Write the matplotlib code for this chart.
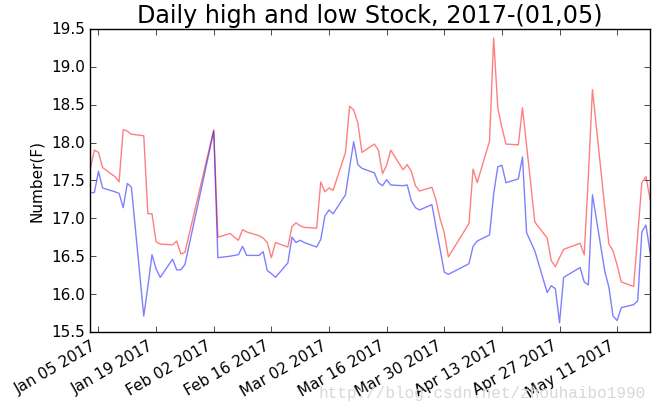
import pandas as pd
import matplotlib
matplotlib.use('Agg')
import matplotlib.pyplot as plt
import matplotlib.dates as mdates

# daily data (trading days only)
dates = ['2017-01-03', '2017-01-04', '2017-01-05', '2017-01-06', '2017-01-09', '2017-01-10',
         '2017-01-11', '2017-01-12', '2017-01-13', '2017-01-16', '2017-01-17', '2017-01-18',
         '2017-01-19', '2017-01-20', '2017-01-23', '2017-01-24', '2017-01-25', '2017-01-26',
         '2017-02-02', '2017-02-03', '2017-02-06', '2017-02-07', '2017-02-08', '2017-02-09',
         '2017-02-10', '2017-02-13', '2017-02-14', '2017-02-15', '2017-02-16', '2017-02-17',
         '2017-02-20', '2017-02-21', '2017-02-22', '2017-02-23', '2017-02-24', '2017-02-27',
         '2017-02-28', '2017-03-01', '2017-03-02', '2017-03-03', '2017-03-06', '2017-03-07',
         '2017-03-08', '2017-03-09', '2017-03-10', '2017-03-13', '2017-03-14', '2017-03-15',
         '2017-03-16', '2017-03-17', '2017-03-20', '2017-03-21', '2017-03-22', '2017-03-23',
         '2017-03-24', '2017-03-27', '2017-03-28', '2017-03-29', '2017-03-30', '2017-03-31',
         '2017-04-05', '2017-04-06', '2017-04-07', '2017-04-10', '2017-04-11', '2017-04-12',
         '2017-04-13', '2017-04-14', '2017-04-17', '2017-04-18', '2017-04-19', '2017-04-20',
         '2017-04-21', '2017-04-24', '2017-04-25', '2017-04-26', '2017-04-27', '2017-04-28',
         '2017-05-02', '2017-05-03', '2017-05-04', '2017-05-05', '2017-05-08', '2017-05-09',
         '2017-05-10', '2017-05-11', '2017-05-12', '2017-05-15', '2017-05-16', '2017-05-17',
         '2017-05-18', '2017-05-19']

highs = [17.65, 17.90, 17.87, 17.67, 17.55, 17.48, 18.17, 18.15, 18.11, 18.09, 17.06, 17.06,
         16.69, 16.66, 16.65, 16.70, 16.53, 16.55,
         18.17, 16.75, 16.80, 16.75, 16.71, 16.85, 16.82, 16.77, 16.74, 16.68, 16.48, 16.68,
         16.62, 16.89, 16.94, 16.90, 16.88, 16.87, 17.48,
         17.35, 17.40, 17.37, 17.87, 18.48, 18.43, 18.26, 17.87, 17.98, 17.90, 17.59,
         17.70, 17.90, 17.64, 17.71, 17.62, 17.43, 17.36, 17.41, 17.24, 16.99, 16.81, 16.49,
         16.93, 17.65, 17.47, 18.02, 19.38, 18.46, 18.20, 17.98, 17.97, 18.46, 17.96, 17.46,
         16.95, 16.74, 16.44, 16.36, 16.48, 16.59,
         16.67, 16.52, 17.55, 18.70, 17.14, 16.66, 16.57, 16.38, 16.16, 16.10, 16.78, 17.47,
         17.55, 17.25]

lows = [17.34, 17.34, 17.62, 17.40, 17.35, 17.33, 17.14, 17.46, 17.41, 15.71, 16.10, 16.52,
        16.33, 16.22, 16.46, 16.32, 16.32, 16.39,
        18.15, 16.48, 16.50, 16.51, 16.52, 16.63, 16.51, 16.51, 16.56, 16.31, 16.27, 16.22,
        16.41, 16.75, 16.68, 16.71, 16.68, 16.62, 16.72,
        17.03, 17.11, 17.06, 17.31, 17.67, 18.01, 17.71, 17.66, 17.60, 17.47, 17.43,
        17.51, 17.44, 17.43, 17.44, 17.23, 17.14, 17.11, 17.18, 16.88, 16.59, 16.29, 16.26,
        16.40, 16.63, 16.70, 16.78, 17.32, 17.68, 17.70, 17.47, 17.52, 17.81, 16.81, 16.69,
        16.57, 16.02, 16.11, 16.07, 15.62, 16.22,
        16.35, 16.16, 16.12, 17.31, 16.30, 16.09, 15.71, 15.65, 15.82, 15.86, 15.91, 16.82,
        16.91, 16.55]

tick_dates = pd.date_range('2017-01-05', periods=10, freq='14D')

plt.style.use('classic')
dates = pd.to_datetime(dates)

fig = plt.figure(figsize=(6.54, 4.10), dpi=100, facecolor='white')
ax = fig.add_axes([0.138, 0.188, 0.856, 0.739])
ax.plot(dates, highs, c='red', alpha=0.5)
ax.plot(dates, lows, c='blue', alpha=0.5)

ax.set_xlim(dates[0], dates[-1])
ax.set_ylim(15.5, 19.5)
ax.set_xticks(tick_dates)
ax.xaxis.set_major_formatter(mdates.DateFormatter('%b %d %Y'))
ax.tick_params(axis='both', which='major', labelsize=11)
for lab in ax.get_xticklabels():
    lab.set_rotation(30)
    lab.set_ha('right')

ax.set_title('Daily high and low Stock, 2017-(01,05)', fontsize=17.2)
ax.set_ylabel('Number(F)', fontsize=11)

# blog watermark at the bottom
fig.text(0.987, 0.022, 'http://blog.csdn.net/zhouhaibo1990', color='#d8d8d8',
         fontsize=11.5, family='Liberation Mono', ha='right', va='bottom')

fig.savefig('out.png', dpi=100, facecolor='white')
